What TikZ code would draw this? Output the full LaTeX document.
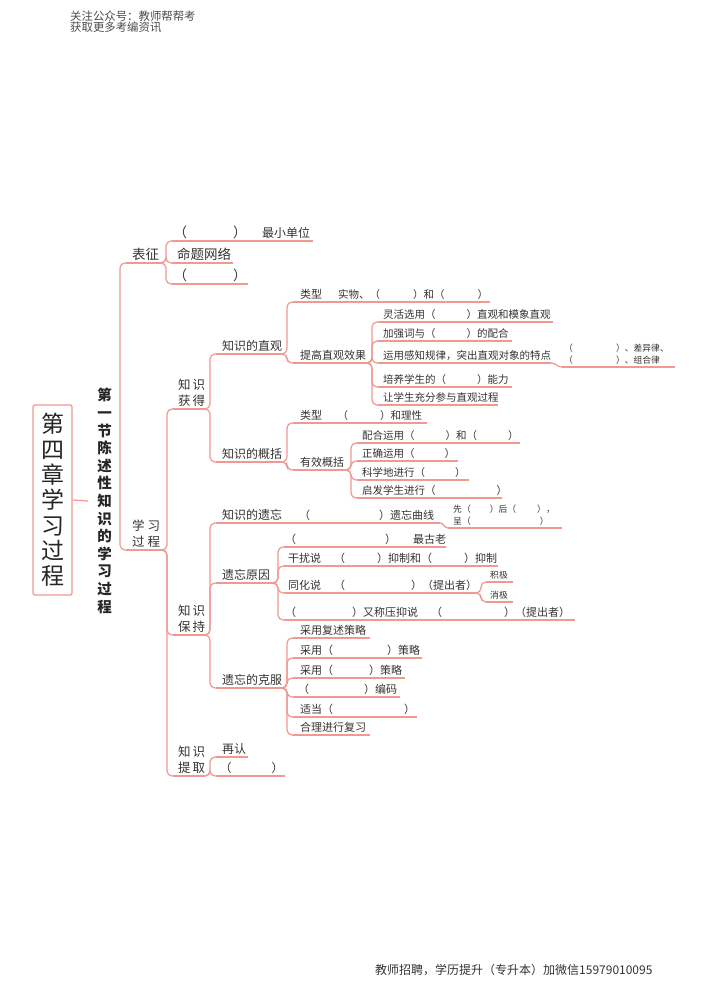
\documentclass[tikz,border=0pt]{standalone}
\usepackage{fontspec}
\setmainfont{Noto Sans CJK SC}
\usetikzlibrary{calc}
\definecolor{lnred}{RGB}{240,152,145}
\definecolor{txtgray}{RGB}{51,51,51}
\newcommand{\setfs}[2]{\fontsize{#1}{#2}\selectfont}
\newcommand{\kh}[1]{（\hspace{#1pt}）}
% topic: name, x left, x right, y of underline, x of text, text
\newcommand{\topic}[7][]{%
  \coordinate (#2-l) at (#3,#5);
  \coordinate (#2-r) at (#4,#5);
  \draw[ln] (#2-l) -- (#2-r);
  \node[lbl,#1] (#2) at (#6,#5) {#7};}
\newcommand{\link}[2]{%
  \draw[ln] let \p1=(#1), \p2=(#2) in
    (\p1) -- ({(\x1+\x2)/2},\y1) -- ({(\x1+\x2)/2},\y2) -- (\p2);}
\newcommand{\linkc}[2]{\draw[ln] (#1) to[out=0,in=180] (#2);}
\begin{document}
\begin{tikzpicture}[x=1pt,y=-1pt,
  ln/.style={draw=lnred,line width=1.2pt,rounded corners=5pt},
  lbl/.style={inner sep=0pt,text=txtgray,anchor=base west,yshift=4pt},
  two/.style={anchor=south west,yshift=-1.5pt,align=left},
  s13/.style={font=\setfs{13.5}{16}},
  s125/.style={font=\setfs{12.5}{15.5}},
  s12/.style={font=\setfs{12}{14}},
  s11/.style={font=\setfs{11}{13}},
  s10/.style={font=\setfs{10.5}{12.5}},
  s8/.style={font=\setfs{8.8}{11.5}}]
  \fill[white] (0,0) rectangle (706,1000);
  \useasboundingbox (0,0) rectangle (706,1000);

  \node[anchor=base west,inner sep=0pt,text=black!70,font=\setfs{11.4}{11.4}] (hd1) at (70,20.5) {关注公众号：教师帮帮考};
  \node[anchor=base west,inner sep=0pt,text=black!70,font=\setfs{11.4}{11.4}] (hd2) at (70,31.5) {获取更多考编资讯};
  \node[anchor=base west,inner sep=0pt,text=black!80,font=\setfs{12}{12}] (ft) at (375,974) {教师招聘，学历提升（专升本）加微信15979010095};

  % chapter and section
  \node[draw=lnred,line width=1.2pt,rounded corners=1.5pt,minimum width=39pt,minimum height=190pt,
    inner sep=0pt,align=center,text=black!85,font=\setfs{23}{25.3}] (root) at (52.5,500)
    {第\\四\\章\\学\\习\\过\\程};
  \node[inner xsep=9pt,inner ysep=0pt,align=center,text=black!85,font=\setfs{14.5}{17.6}\bfseries] (sec) at (104.5,501)
    {第\\一\\节\\陈\\述\\性\\知\\识\\的\\学\\习\\过\\程};
  \draw[ln] (root.east) -- (sec.west);
  \coordinate (sec-t) at (120,500);

  \topic[s13]{bz}{126}{160}{263}{132}{表征}
  \topic[s125,two]{xxgc}{126}{161}{550}{132}{学\hspace{3pt}习\\过\hspace{3pt}程}
  \draw[ln] (bz-l) -| (sec-t) |- (xxgc-l);

  % 表征
  \topic[s13]{kh1}{172}{250}{241}{173.5}{\kh{46}}
  \topic[s12]{zxdw}{250}{313}{241}{262}{最小单位}
  \topic[s13]{mtwl}{172}{233}{263}{177}{命题网络}
  \topic[s13]{kh2}{172}{248}{284}{173.5}{\kh{46}}
  \foreach \k in {kh1,mtwl,kh2} {\link{bz-r}{\k-l}}

  % 学习过程
  \topic[s125,two]{zshd}{173}{204}{409}{178}{知\hspace{2pt}识\\获\hspace{2pt}得}
  \topic[s125,two]{zsbc}{173}{204}{635}{178}{知\hspace{2pt}识\\保\hspace{2pt}持}
  \topic[s125,two]{zstq}{173}{204}{776}{178}{知\hspace{2pt}识\\提\hspace{2pt}取}
  \foreach \k in {zshd,zsbc,zstq} {\link{xxgc-r}{\k-l}}

  % 知识获得
  \topic[s12]{zg}{216}{281}{354}{222}{知识的直观}
  \topic[s12]{gk}{216}{281}{462}{222}{知识的概括}
  \foreach \k in {zg,gk} {\link{zshd-r}{\k-l}}

  \topic[s11]{lx1}{293}{330}{302}{300}{类型}
  \topic[s10]{sw}{330}{490}{302}{338}{实物、\kh{33}和\kh{33}}
  \topic[s11]{tg}{293}{366}{363}{300}{提高直观效果}
  \foreach \k in {lx1,tg} {\link{zg-r}{\k-l}}

  \topic[s10]{a1}{378}{553}{322}{383}{灵活选用\kh{31}直观和模象直观}
  \topic[s10]{a2}{378}{512}{341}{383}{加强词与\kh{31}的配合}
  \topic[s10]{a3}{378}{551}{363}{383}{运用感知规律，突出直观对象的特点}
  \topic[s10]{a4}{378}{512}{387}{383}{培养学生的\kh{31}能力}
  \topic[s10]{a5}{378}{498}{405}{383}{让学生充分参与直观过程}
  \foreach \k in {a1,a2,a3,a4,a5} {\link{tg-r}{\k-l}}
  \topic[s8,two]{a3c}{562}{675}{367}{564}{\kh{43}、差异律、\\\kh{43}、组合律}
  \linkc{a3-r}{a3c-l}

  \topic[s11]{lx2}{293}{330}{423}{300}{类型}
  \topic[s10]{lxc}{330}{427}{423}{337.5}{\kh{32}和理性}
  \topic[s11]{yx}{293}{345}{470}{300}{有效概括}
  \foreach \k in {lx2,yx} {\link{gk-r}{\k-l}}

  \topic[s10]{b1}{357}{520}{443}{362}{配合运用\kh{31}和\kh{31}}
  \topic[s10]{b2}{357}{458}{461}{362}{正确运用\kh{30}}
  \topic[s10]{b3}{357}{469}{480}{362}{科学地进行\kh{30}}
  \topic[s10]{b4}{357}{502}{498}{362}{启发学生进行\kh{61}}
  \foreach \k in {b1,b2,b3,b4} {\link{yx-r}{\k-l}}

  % 知识保持
  \topic[s12]{yw}{216}{283}{523}{222}{知识的遗忘}
  \topic[s11]{qx}{283}{440}{523}{299}{\kh{69}遗忘曲线}
  \topic[s8,two]{xh}{448}{562}{528}{453}{先\kh{19}后\kh{21}，\\呈\kh{69}}
  \linkc{qx-r}{xh-l}
  \topic[s12]{yy}{216}{272}{583}{222}{遗忘原因}
  \topic[s12]{kf}{216}{281}{688}{222}{遗忘的克服}
  \foreach \k in {yw,yy,kf} {\link{zsbc-r}{\k-l}}

  \topic[s11]{c1}{284}{446}{547}{285}{\kh{89}\hspace{17pt}最古老}
  \topic[s11]{c2}{284}{332}{566}{288}{干扰说}
  \topic[s11]{c2c}{332}{498}{566}{334}{\kh{32}抑制和\kh{32}抑制}
  \topic[s11]{c3}{284}{332}{593}{288}{同化说}
  \topic[s11]{thc}{332}{476}{593}{334}{\kh{66}（提出者）}
  \topic[s8]{jj}{486}{513}{582}{490}{积极}
  \topic[s8]{xj}{486}{513}{602}{490}{消极}
  \foreach \k in {jj,xj} {\link{thc-r}{\k-l}}
  \topic[s11]{c4}{284}{425}{620}{285}{\kh{56}又称压抑说}
  \topic[s11]{c4c}{425}{575}{620}{431}{\kh{62}（提出者）}
  \foreach \k in {c1,c2,c3,c4} {\link{yy-r}{\k-l}}

  \topic[s11]{d1}{293}{370}{638}{300}{采用复述策略}
  \topic[s11]{d2}{293}{422}{658}{300}{采用\kh{54}策略}
  \topic[s11]{d3}{293}{405}{678}{300}{采用\kh{36}策略}
  \topic[s11]{d4}{293}{400}{697}{298}{\kh{55}编码}
  \topic[s11]{d5}{293}{417}{717}{300}{适当\kh{71}}
  \topic[s11]{d6}{293}{370}{735}{300}{合理进行复习}
  \foreach \k in {d1,d2,d3,d4,d5,d6} {\link{kf-r}{\k-l}}

  % 知识提取
  \topic[s12]{zr}{216}{248}{757}{222}{再认}
  \topic[s12]{e2}{216}{285}{776}{219.5}{\kh{40}}
  \foreach \k in {zr,e2} {\link{zstq-r}{\k-l}}
\end{tikzpicture}
\end{document}
